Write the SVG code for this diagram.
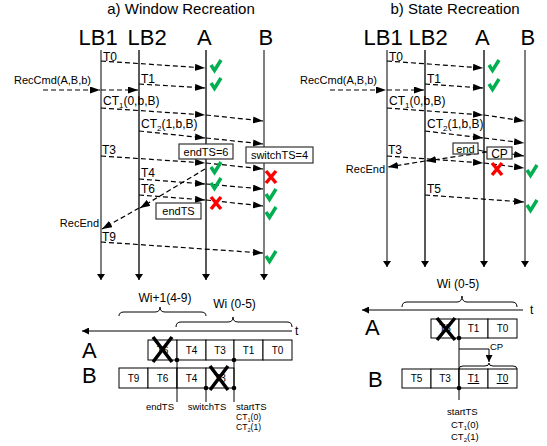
<svg xmlns="http://www.w3.org/2000/svg" width="547" height="446" viewBox="0 0 547 446">
<style>
text{font-family:"Liberation Sans",Arial,sans-serif;fill:#000}
.ttl{font-size:15px}
.hdr{font-size:22px}
.lbl{font-size:12px}
.sm{font-size:11px}
.xs{font-size:9.5px}
.xs2{font-size:8.6px}
.cl{font-size:10px}
.mid{text-anchor:middle}
.end{text-anchor:end}
.llg{stroke:#7f7f7f;stroke-width:2}
.llk{stroke:#000;stroke-width:1.3}
.dash{stroke:#000;stroke-width:1.2;stroke-dasharray:5 3;fill:none}
.sol{stroke:#000;stroke-width:1;fill:none}
.box{fill:#fff;stroke:#333;stroke-width:1.2}
.cell{fill:#fff;stroke:#000;stroke-width:1}
.chk{stroke:#00b050;stroke-width:3.5;fill:none}
.xr{stroke:#f00;stroke-width:3.5}
.xb{stroke:#000;stroke-width:3.5}
.brace{stroke:#000;stroke-width:1;fill:none}
</style>
<defs>
<marker id="ah" viewBox="0 0 10 7" refX="10" refY="3.5" markerWidth="10" markerHeight="7" markerUnits="userSpaceOnUse" orient="auto"><path d="M0,0L10,3.5L0,7z" fill="#000"/></marker>
<marker id="ahd" viewBox="0 0 6 8" refX="6" refY="4" markerWidth="6" markerHeight="8" markerUnits="userSpaceOnUse" orient="auto"><path d="M0,0L6,4L0,8z" fill="#000"/></marker>
<marker id="ahs" viewBox="0 0 7 7" refX="7" refY="3.5" markerWidth="7" markerHeight="7" markerUnits="userSpaceOnUse" orient="auto"><path d="M0,0L7,3.5L0,7z" fill="#000"/></marker>
<g id="chk"><path class="chk" d="M-5,-1L-1.5,4.5L5,-6"/></g>
<g id="xr"><path class="xr" d="M-5,-6L5,6M5,-6L-5,6"/></g>
</defs>

<!-- Titles -->
<text class="ttl mid" x="181" y="14">a) Window Recreation</text>
<text class="ttl mid" x="455" y="14">b) State Recreation</text>

<!-- Left panel lifelines -->
<g id="a-LB1"><text class="hdr" x="78.5" y="44.5">LB1</text><line class="llg" x1="101" y1="50" x2="101" y2="280" marker-end="url(#ahd)"/></g>
<g id="a-LB2"><text class="hdr" x="127.5" y="44.5">LB2</text><line class="llk" x1="139" y1="50" x2="139" y2="280" marker-end="url(#ahd)"/></g>
<g id="a-A"><text class="hdr" x="197" y="44.5">A</text><line class="llk" x1="206" y1="50" x2="206" y2="280" marker-end="url(#ahd)"/></g>
<g id="a-B"><text class="hdr" x="258.5" y="44.5">B</text><line class="llg" x1="264" y1="50" x2="264" y2="280" marker-end="url(#ahd)"/></g>

<!-- Right panel lifelines -->
<g id="b-LB1"><text class="hdr" x="363.5" y="44.5">LB1</text><line class="llg" x1="387" y1="50" x2="387" y2="267" marker-end="url(#ahd)"/></g>
<g id="b-LB2"><text class="hdr" x="408.5" y="44.5">LB2</text><line class="llk" x1="425" y1="50" x2="425" y2="267" marker-end="url(#ahd)"/></g>
<g id="b-A"><text class="hdr" x="475" y="44.5">A</text><line class="llk" x1="484" y1="50" x2="484" y2="267" marker-end="url(#ahd)"/></g>
<g id="b-B"><text class="hdr" x="520.5" y="44.5">B</text><line class="llg" x1="525" y1="50" x2="525" y2="267" marker-end="url(#ahd)"/></g>

<!-- Connectors -->
<g id="connectors">
<!-- left -->
<path class="dash" d="M101,61L205,68" marker-end="url(#ah)"/>
<path class="dash" d="M139,84L205,88" marker-end="url(#ah)"/>
<path class="dash" d="M43,90L100,90" marker-end="url(#ah)"/>
<path class="dash" d="M101,90L138,90" marker-end="url(#ah)"/>
<path class="dash" d="M101,108L205,115" marker-end="url(#ah)"/>
<path class="dash" d="M206,115L263,121" marker-end="url(#ah)"/>
<path class="dash" d="M139,131L205,138" marker-end="url(#ah)"/>
<path class="dash" d="M206,138L263,144" marker-end="url(#ah)"/>
<path class="dash" d="M101,156L205,163" marker-end="url(#ah)"/>
<path class="dash" d="M206,163L263,169" marker-end="url(#ah)"/>
<path class="dash" d="M139,179L205,184" marker-end="url(#ah)"/>
<path class="dash" d="M206,184L263,189" marker-end="url(#ah)"/>
<path class="dash" d="M139,195L205,200" marker-end="url(#ah)"/>
<path class="dash" d="M206,200L263,206" marker-end="url(#ah)"/>
<path class="dash" d="M205,169L140,208" marker-end="url(#ah)"/>
<path class="dash" d="M139,208L102,229" marker-end="url(#ah)"/>
<path class="dash" d="M101,242L263,253" marker-end="url(#ah)"/>
<!-- right -->
<path class="dash" d="M387,61L483,68" marker-end="url(#ah)"/>
<path class="dash" d="M425,84L483,88" marker-end="url(#ah)"/>
<path class="dash" d="M330,90L386,90" marker-end="url(#ah)"/>
<path class="dash" d="M387,90L424,90" marker-end="url(#ah)"/>
<path class="dash" d="M387,108L483,115" marker-end="url(#ah)"/>
<path class="dash" d="M484,115L524,121" marker-end="url(#ah)"/>
<path class="dash" d="M425,131L483,138" marker-end="url(#ah)"/>
<path class="dash" d="M484,138L524,143" marker-end="url(#ah)"/>
<path class="dash" d="M387,156L483,163" marker-end="url(#ah)"/>
<path class="dash" d="M484,163L524,168" marker-end="url(#ah)"/>
<path class="dash" d="M487,152L426,161" marker-end="url(#ah)"/>
<path class="dash" d="M425,161L388,167" marker-end="url(#ah)"/>
<path class="sol" d="M478,150L487,152"/>
<path class="sol" d="M512,154L524,156" marker-end="url(#ah)"/>
<path class="dash" d="M425,195L524,202" marker-end="url(#ah)"/>
</g>

<!-- Left labels -->
<g id="a-labels">
<text class="lbl" x="103" y="60.5">T0</text>
<text class="lbl" x="141" y="83">T1</text>
<text class="sm" x="14" y="84">RecCmd(A,B,b)</text>
<text class="lbl" x="103" y="105">CT<tspan font-size="8" dy="3">1</tspan><tspan dy="-3">(0,b,B)</tspan></text>
<text class="lbl" x="141" y="128">CT<tspan font-size="8" dy="3">2</tspan><tspan dy="-3">(1,b,B)</tspan></text>
<text class="lbl" x="102" y="154">T3</text>
<text class="lbl" x="141" y="177">T4</text>
<text class="lbl" x="141" y="193">T6</text>
<text class="sm end" x="99" y="227">RecEnd</text>
<text class="lbl" x="102" y="241">T9</text>
</g>
<g id="a-endTS6"><rect class="box" x="179" y="144" width="54" height="15"/><text class="sm mid" x="206" y="155.5">endTS=6</text></g>
<g id="a-switchTS4"><rect class="box" x="246" y="147" width="67" height="16"/><text class="sm mid" x="279.5" y="159">switchTS=4</text></g>
<g id="a-endTS"><rect class="box" x="156" y="203" width="45" height="16"/><text class="sm mid" x="178.5" y="215">endTS</text></g>
<g id="a-marks">
<use href="#chk" x="216" y="66"/>
<use href="#chk" x="216" y="84"/>
<use href="#chk" x="216" y="168"/>
<use href="#chk" x="216" y="184"/>
<use href="#xr" x="216" y="203"/>
<use href="#xr" x="271" y="177"/>
<use href="#chk" x="271" y="195"/>
<use href="#chk" x="271" y="213"/>
<use href="#chk" x="271" y="257"/>
</g>

<!-- Right labels -->
<g id="b-labels">
<text class="lbl" x="389" y="60.5">T0</text>
<text class="lbl" x="427" y="83">T1</text>
<text class="sm" x="300" y="84">RecCmd(A,B,b)</text>
<text class="lbl" x="389" y="105">CT<tspan font-size="8" dy="3">1</tspan><tspan dy="-3">(0,b,B)</tspan></text>
<text class="lbl" x="427" y="128">CT<tspan font-size="8" dy="3">2</tspan><tspan dy="-3">(1,b,B)</tspan></text>
<text class="lbl" x="388" y="154">T3</text>
<text class="sm end" x="385" y="173">RecEnd</text>
<text class="lbl" x="427" y="193">T5</text>
</g>
<g id="b-end"><rect class="box" x="453" y="143" width="25" height="11"/><text class="sm mid" x="465.5" y="152.5">end</text></g>
<g id="b-CP"><rect class="box" x="487" y="147" width="25" height="12"/><text class="lbl mid" x="499.5" y="157.5">CP</text></g>
<g id="b-marks">
<use href="#chk" x="494" y="66"/>
<use href="#chk" x="494" y="85"/>
<use href="#xr" x="497" y="169"/>
<use href="#chk" x="532" y="171"/>
<use href="#chk" x="532" y="206"/>
</g>

<!-- Bottom left timeline -->
<g id="a-timeline">
<path class="brace" d="M119,316Q119,312 124,312L155,312Q160,312 160,307Q160,312 165,312L201,312Q206,312 206,316"/>
<text class="lbl mid" x="165" y="302">Wi+1(4-9)</text>
<path class="brace" d="M176,327Q176,322 181,322L228,322Q233,322 233,317Q233,322 238,322L287,322Q292,322 292,327"/>
<text class="lbl mid" x="234.5" y="308">Wi (0-5)</text>
<path class="sol" d="M292,331L82,331" marker-end="url(#ahs)"/>
<text class="lbl" x="295" y="335">t</text>
<text class="hdr" x="82" y="358">A</text>
<text class="hdr" x="82" y="383">B</text>
</g>
<g id="a-rowA">
<rect class="cell" x="148" y="340" width="29" height="20"/>
<rect class="cell" x="177" y="340" width="29" height="20"/>
<rect class="cell" x="206" y="340" width="28" height="20"/>
<rect class="cell" x="234" y="340" width="29" height="20"/>
<rect class="cell" x="263" y="340" width="29" height="20"/>
<text class="cl mid" x="162.5" y="354">T6</text>
<text class="cl mid" x="191.5" y="354">T4</text>
<text class="cl mid" x="220" y="354">T3</text>
<text class="cl mid" x="248.5" y="354">T1</text>
<text class="cl mid" x="277.5" y="354">T0</text>
<path class="xb" d="M153,337L172,362M172,337L153,362"/>
</g>
<g id="a-rowB">
<rect class="cell" x="119" y="368" width="29" height="20"/>
<rect class="cell" x="148" y="368" width="29" height="20"/>
<rect class="cell" x="177" y="368" width="29" height="20"/>
<rect class="cell" x="206" y="368" width="28" height="20"/>
<text class="cl mid" x="133.5" y="382">T9</text>
<text class="cl mid" x="162.5" y="382">T6</text>
<text class="cl mid" x="191.5" y="382">T4</text>
<text class="cl mid" x="220" y="382">T3</text>
<path class="xb" d="M210,366L228,390M228,366L210,390"/>
</g>
<g id="a-markers">
<path class="sol" d="M177,360V402M206,388V402M234,360V402"/>
<circle cx="177" cy="360" r="2.3"/>
<circle cx="234" cy="360" r="2.3"/>
<circle cx="206" cy="388" r="2.3"/>
<circle cx="234" cy="388" r="2.3"/>
<text class="xs end" x="174" y="410">endTS</text>
<text class="xs mid" x="207" y="410">switchTS</text>
<text class="xs" x="236" y="410">startTS</text>
<text class="xs2" x="236" y="420">CT<tspan font-size="5.5" dy="2">1</tspan><tspan dy="-2">(0)</tspan></text>
<text class="xs2" x="236" y="430">CT<tspan font-size="5.5" dy="2">2</tspan><tspan dy="-2">(1)</tspan></text>
</g>

<!-- Bottom right timeline -->
<g id="b-timeline">
<path class="brace" d="M402,307Q402,302 407,302L457,302Q462,302 462,296Q462,302 467,302L512,302Q517,302 517,307"/>
<text class="lbl mid" x="458" y="288">Wi (0-5)</text>
<path class="sol" d="M523,310L362,310" marker-end="url(#ahs)"/>
<text class="lbl" x="530" y="314">t</text>
<text class="hdr" x="365" y="335">A</text>
<text class="hdr" x="368" y="387">B</text>
</g>
<g id="b-rowA">
<rect class="cell" x="431" y="319" width="28" height="19"/>
<rect class="cell" x="459" y="319" width="29" height="19"/>
<rect class="cell" x="488" y="319" width="29" height="19"/>
<text class="cl mid" x="445" y="332">T3</text>
<text class="cl mid" x="473.5" y="332">T1</text>
<text class="cl mid" x="502.5" y="332">T0</text>
<path class="xb" d="M437,318L455,340M455,318L437,340"/>
</g>
<g id="b-rowB">
<rect class="cell" x="402" y="369" width="29" height="19"/>
<rect class="cell" x="431" y="369" width="28" height="19"/>
<rect class="cell" x="459" y="369" width="29" height="19"/>
<rect class="cell" x="488" y="369" width="29" height="19"/>
<text class="cl mid" x="416.5" y="382">T5</text>
<text class="cl mid" x="445" y="382">T3</text>
<text class="cl mid" x="473.5" y="382" text-decoration="underline">T1</text>
<text class="cl mid" x="502.5" y="382" text-decoration="underline">T0</text>
</g>
<g id="b-markers">
<path class="sol" d="M459,338V400"/>
<path class="sol" d="M459,349H489V362" marker-end="url(#ahs)"/>
<text class="xs" x="490" y="350">CP</text>
<path class="brace" d="M459,369Q459,366 463,366L485,366Q489,366 489,363Q489,366 493,366L513,366Q517,366 517,369"/>
<circle cx="459" cy="338" r="2.3"/>
<circle cx="459" cy="388" r="2.3"/>
<text class="xs" x="447" y="415">startTS</text>
<text class="xs" x="451" y="428">CT<tspan font-size="6" dy="2">1</tspan><tspan dy="-2">(0)</tspan></text>
<text class="xs" x="451" y="440">CT<tspan font-size="6" dy="2">2</tspan><tspan dy="-2">(1)</tspan></text>
</g>
</svg>
